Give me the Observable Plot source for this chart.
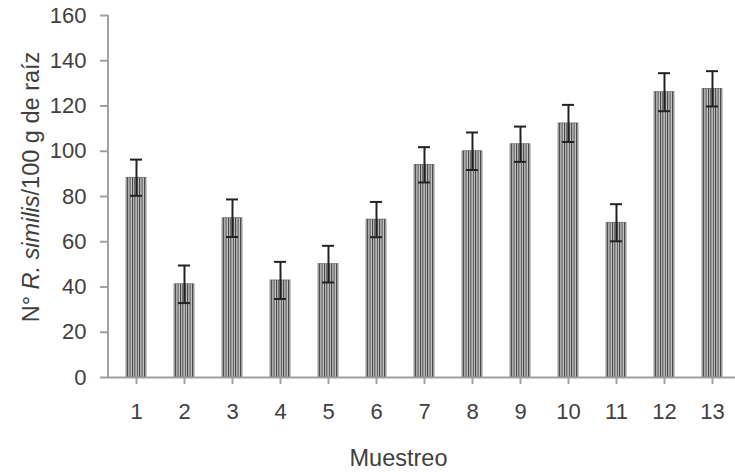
<!DOCTYPE html>
<html>
<head>
<meta charset="utf-8">
<script src="https://cdn.jsdelivr.net/npm/d3@7"></script>
<script src="https://cdn.jsdelivr.net/npm/@observablehq/plot@0.6"></script>
<style>
  html, body { margin: 0; padding: 0; background: #fff; }
  #chart svg { display: block; }
</style>
</head>
<body>
<div id="chart"></div>
<script>
const muestreos = ["1","2","3","4","5","6","7","8","9","10","11","12","13"];
const promedios = [88.3, 41.2, 70.4, 42.9, 50.1, 69.8, 94.0, 100.0, 103.1, 112.3, 68.4, 126.1, 127.6];
const errores   = [8.0, 8.3, 8.3, 8.2, 8.1, 7.8, 7.8, 8.3, 7.8, 8.2, 8.2, 8.4, 7.8];
const yTicks = [0, 20, 40, 60, 80, 100, 120, 140, 160];

const data = muestreos.map((m, i) => ({m, v: promedios[i], lo: promedios[i] - errores[i], hi: promedios[i] + errores[i]}));

const W = 735, H = 472, mt = 15, mb = 95, ml = 108;
const bandW = (740 - ml) / muestreos.length;
const capInset = (bandW * 0.41 - 12) / 2;

const defs = () => {
  const ns = "http://www.w3.org/2000/svg";
  const d = document.createElementNS(ns, "defs");
  d.innerHTML = `<pattern id="stripes" patternUnits="userSpaceOnUse" width="2.4" height="10">
      <rect width="2.4" height="10" fill="#c8c8c8"/>
      <rect width="1.0" height="10" fill="#3c3c3c"/>
    </pattern>`;
  return d;
};

const chart = Plot.plot({
  width: W,
  height: H,
  marginTop: mt,
  marginBottom: mb,
  marginLeft: ml,
  marginRight: 0,
  style: {fontFamily: "'Liberation Sans', Arial, sans-serif", fontSize: "22px", color: "#404040", background: "#fff"},
  x: {domain: muestreos, range: [ml, 740], paddingInner: 0.59, paddingOuter: 0.295, align: 0.5},
  y: {domain: [0, 160]},
  marks: [
    defs,
    Plot.barY(data, {x: "m", y: "v", fill: "url(#stripes)", stroke: "#555", strokeWidth: 0.6}),
    Plot.ruleX(data, {x: "m", y1: "lo", y2: "hi", stroke: "#222", strokeWidth: 2}),
    Plot.tickY(data, {x: "m", y: "lo", stroke: "#222", strokeWidth: 2, insetLeft: capInset, insetRight: capInset}),
    Plot.tickY(data, {x: "m", y: "hi", stroke: "#222", strokeWidth: 2, insetLeft: capInset, insetRight: capInset}),
    Plot.axisY({ticks: yTicks, tickSize: 8, tickPadding: 14, stroke: "#a0a0a0", strokeWidth: 2, label: null, fill: "#404040", fontSize: 22}),
    Plot.axisX({tickSize: 7, tickPadding: 19, stroke: "#a0a0a0", strokeWidth: 2, label: null, fill: "#404040", fontSize: 22}),
    Plot.ruleY([0], {stroke: "#a0a0a0", strokeWidth: 2})
  ]
});

const svg = d3.select(chart);
// enforce tick label size
svg.selectAll("g[aria-label$='tick label']").attr("font-size", 22).style("font-size", "22px");
svg.selectAll("g[aria-label$='tick label'] text").style("font-size", "22px");

const yS = chart.scale("y");
// vertical axis line
svg.append("line")
  .attr("x1", ml).attr("x2", ml)
  .attr("y1", yS.apply(0)).attr("y2", yS.apply(160))
  .attr("stroke", "#a0a0a0").attr("stroke-width", 2);

// y label with italic species name
const yl = svg.append("text")
  .attr("transform", "translate(39, 187) rotate(-90)")
  .attr("text-anchor", "middle")
  .attr("fill", "#404040")
  .style("font-size", "23.5px");
yl.append("tspan").text("N° ");
yl.append("tspan").style("font-style", "italic").text("R. similis");
yl.append("tspan").text("/100 g de raíz");

// x label
svg.append("text")
  .attr("x", 398.5)
  .attr("y", 466)
  .attr("text-anchor", "middle")
  .attr("fill", "#404040")
  .style("font-size", "23.5px")
  .text("Muestreo");

document.getElementById("chart").appendChild(chart);
</script>
</body>
</html>
